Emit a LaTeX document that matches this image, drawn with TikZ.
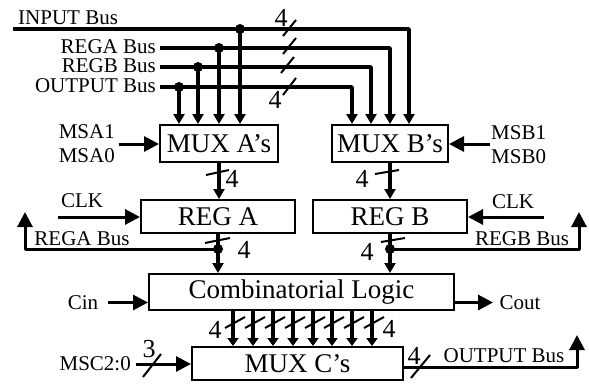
\documentclass[tikz,border=0pt]{standalone}
\usepackage{fontspec}
\setmainfont{Liberation Serif}
\usetikzlibrary{arrows.meta}
\tikzset{
  x=1pt,y=-1pt,
  box/.style={draw,line width=2pt,minimum height=0pt,inner sep=0pt,fill=white},
  bigt/.style={font=\fontsize{27}{27}\selectfont,inner sep=0pt},
  lab/.style={font=\fontsize{21}{21}\selectfont,inner sep=0pt},
  num/.style={font=\fontsize{26}{26}\selectfont,inner sep=0pt},
  busa/.style={line width=3.6pt,-{Triangle[length=10pt,width=11pt]}},
  busc/.style={line width=3.6pt,-{Triangle[length=8pt,width=11pt]}},
  sig/.style={line width=3pt,-{Triangle[length=15pt,width=15pt]}},
  slash/.style={line width=2pt},
  dot/.style={circle,fill=black,inner sep=0pt,minimum size=10pt},
}
\begin{document}
\begin{tikzpicture}
\useasboundingbox (0,0) rectangle (589,383);
% boxes
\node[box,minimum width=118pt,minimum height=37pt] (muxa) at (219,143.5) {};
\node[box,minimum width=116pt,minimum height=37pt] (muxb) at (390,143.5) {};
\node[box,minimum width=154pt,minimum height=33pt] (rega) at (218,216.5) {};
\node[box,minimum width=154pt,minimum height=33pt] (regb) at (390,216.5) {};
\node[box,minimum width=305pt,minimum height=36pt] (comb) at (301.5,292) {};
\node[box,minimum width=211pt,minimum height=33pt] (muxc) at (297.5,363.5) {};
\node[bigt] at (muxa.center) {MUX A’s};
\node[bigt] at (muxb.center) {MUX B’s};
\node[bigt] at (rega.center) {REG A};
\node[bigt] at (regb.center) {REG B};
\node[bigt] at (comb.center) {Combinatorial Logic};
\node[bigt] at (muxc.center) {MUX C’s};
% free ends
\coordinate (inS) at (13,29);
\coordinate (raS) at (160,48);
\coordinate (rbS) at (160,67);
\coordinate (ouS) at (160,87);
\coordinate (inC) at (409,29);
\coordinate (raC) at (390,48);
\coordinate (rbC) at (371,67);
\coordinate (ouC) at (352,87);
\node[dot] (j1) at (240,29) {};
\node[dot] (j2) at (219,48) {};
\node[dot] (j3) at (198,67) {};
\node[dot] (j4) at (179,87) {};
% top buses
\draw[busa,line join=round] (inS) -- (inC) -- (inC |- muxb.north);
\draw[busa,line join=round] (raS) -- (raC) -- (raC |- muxb.north);
\draw[busa,line join=round] (rbS) -- (rbC) -- (rbC |- muxb.north);
\draw[busa,line join=round] (ouS) -- (ouC) -- (ouC |- muxb.north);
\draw[busa] (j1.center) -- (j1 |- muxa.north);
\draw[busa] (j2.center) -- (j2 |- muxa.north);
\draw[busa] (j3.center) -- (j3 |- muxa.north);
\draw[busa] (j4.center) -- (j4 |- muxa.north);
% top bus labels
\node[lab,anchor=west] (tin) at (18,18) {INPUT Bus};
\node[lab,anchor=east] (tra) at (156,47) {REGA Bus};
\node[lab,anchor=east] (trb) at (156,66) {REGB Bus};
\node[lab,anchor=east] (tou) at (156,86) {OUTPUT Bus};
\node[num] (n1) at (281,18) {4};
\node[num] (n2) at (275,100) {4};
\draw[slash] (283,36) -- (296,20);
\draw[slash] (283,54) -- (296,38);
\draw[slash] (281,73) -- (294,57);
\draw[slash] (283,95) -- (296,78);
% selects
\node[lab,anchor=east] (msa1) at (115,132) {MSA1};
\node[lab,anchor=east] (msa0) at (115,156) {MSA0};
\node[lab,anchor=west] (msb1) at (491,133) {MSB1};
\node[lab,anchor=west] (msb0) at (491,157) {MSB0};
\coordinate (msaS) at (119,144);
\coordinate (msbS) at (490,144);
\draw[sig] (msaS) -- (msaS -| muxa.west);
\draw[sig] (msbS) -- (msbS -| muxb.east);
% mux to reg
\draw[busa] (muxa.south) -- (muxa.south |- rega.north);
\draw[busa] (muxb.south) -- (muxb.south |- regb.north);
\draw[slash] (206,175) -- (229,170);
\draw[slash] (375,174) -- (399,170);
\node[num] at (232,179) {4};
\node[num] at (362,179) {4};
% clocks
\node[lab] (clka) at (82,201) {CLK};
\node[lab] (clkb) at (513,202) {CLK};
\coordinate (ckaS) at (58,217);
\coordinate (ckbS) at (544,217);
\draw[sig] (ckaS) -- (ckaS -| rega.west);
\draw[sig] (ckbS) -- (ckbS -| regb.east);
% reg to comb
\node[dot] (ja) at (218,249) {};
\node[dot] (jb) at (390,249) {};
\draw[busa] (rega.south) -- (rega.south |- comb.north);
\draw[busa] (regb.south) -- (regb.south |- comb.north);
\coordinate (fbaC) at (25,249);
\coordinate (fbaE) at (25,212);
\coordinate (fbbC) at (579,249);
\coordinate (fbbE) at (579,212);
\draw[sig,line join=round] (ja.center) -- (fbaC) -- (fbaE);
\draw[sig,line join=round] (jb.center) -- (fbbC) -- (fbbE);
\node[lab] (tfa) at (82,239) {REGA Bus};
\node[lab] (tfb) at (522,239) {REGB Bus};
\draw[slash] (205,243) -- (230,238);
\draw[slash] (381,242) -- (405,238);
\node[num] at (244,250) {4};
\node[num] at (367,252) {4};
% carry
\node[lab] (cin) at (83,303) {Cin};
\node[lab] (cout) at (520,303) {Cout};
\coordinate (cinS) at (108,302.5);
\coordinate (coutE) at (493,302.5);
\draw[sig] (cinS) -- (cinS -| comb.west);
\draw[sig] (coutE -| comb.east) -- (coutE);
% comb to mux c
\foreach \i/\x in {1/233,2/253,3/273,4/293,5/313,6/332,7/352,8/372}{
  \coordinate (c\i) at (\x,310);
  \draw[busc] (c\i) -- (c\i |- muxc.north);
  \draw[slash] (\x-8,328) -- (\x+12,317);
}
\node[num] at (215,330) {4};
\node[num] at (389,329) {4};
% mux c select
\node[lab,anchor=east] (msc) at (131,364) {MSC2:0};
\coordinate (mscS) at (136,364);
\draw[sig] (mscS) -- (mscS -| muxc.west);
\draw[slash] (143,377) -- (161,354);
\node[num] at (149,349) {3};
% output
\coordinate (ouA) at (403,367);
\coordinate (ouB) at (577,367);
\coordinate (ouE) at (577,335);
\draw[sig,line join=round] (ouA) -- (ouB) -- (ouE);
\draw[slash] (411,378) -- (430,355);
\node[num] at (414,356) {4};
\node[lab] (tob) at (504,356) {OUTPUT Bus};
\end{tikzpicture}
\end{document}
